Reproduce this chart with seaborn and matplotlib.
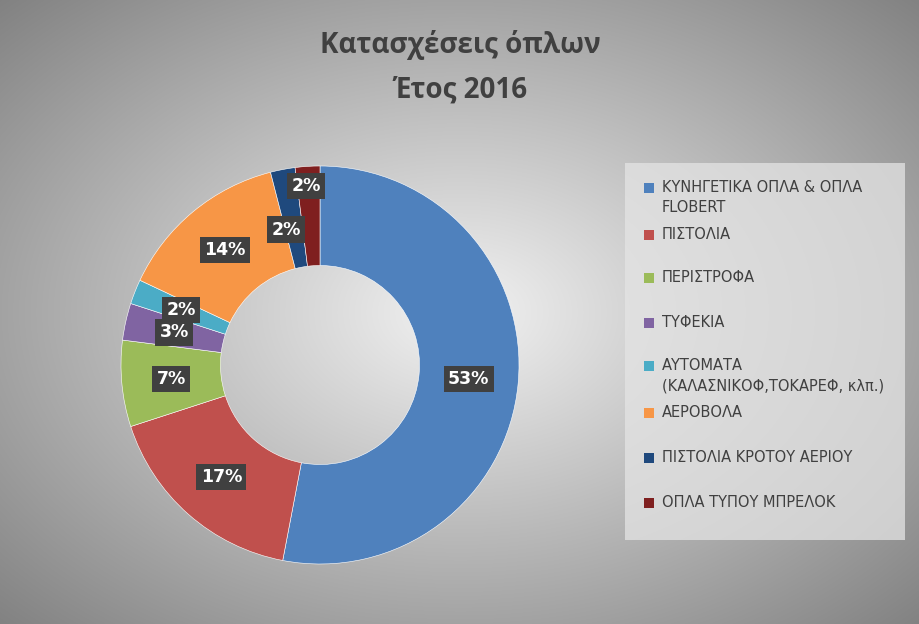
import numpy as np
import matplotlib
matplotlib.use("Agg")
import matplotlib.pyplot as plt
import seaborn as sns
from matplotlib.patches import Rectangle

categories = ["ΚΥΝΗΓΕΤΙΚΑ ΟΠΛΑ & ΟΠΛΑ\nFLOBERT", "ΠΙΣΤΟΛΙΑ", "ΠΕΡΙΣΤΡΟΦΑ", "ΤΥΦΕΚΙΑ",
              "ΑΥΤΟΜΑΤΑ\n(ΚΑΛΑΣΝΙΚΟΦ,ΤΟΚΑΡΕΦ, κλπ.)", "ΑΕΡΟΒΟΛΑ",
              "ΠΙΣΤΟΛΙΑ ΚΡΟΤΟΥ ΑΕΡΙΟΥ", "ΟΠΛΑ ΤΥΠΟΥ ΜΠΡΕΛΟΚ"]
values = [53, 17, 7, 3, 2, 14, 2, 2]
labels = ["53%", "17%", "7%", "3%", "2%", "14%", "2%", "2%"]
colors = ["#4f81bd", "#c0504d", "#9bbb59", "#8064a2", "#4bacc6", "#f79646", "#1f497d", "#7f1f1f"]

sns.set_theme(style="white", font="DejaVu Sans")
fig = plt.figure(figsize=(9.2, 6.24), dpi=100)

# radial gradient background
bg = fig.add_axes([0, 0, 1, 1])
yy, xx = np.mgrid[0:624, 0:920]
d = np.sqrt(((xx - 460) / 620) ** 2 + ((yy - 312) / 420) ** 2)
g = np.clip(0.95 - 0.42 * d, 0.5, 1)
bg.imshow(np.dstack([g, g, g]), aspect="auto", extent=[0, 920, 624, 0])
bg.set_xlim(0, 920); bg.set_ylim(624, 0); bg.axis("off")

ax = fig.add_axes([120 / 920, 59 / 624, 400 / 920, 400 / 624])
wedges, _ = ax.pie(values, colors=colors, startangle=90, counterclock=False,
                   radius=1, wedgeprops=dict(width=0.5, edgecolor="white", linewidth=0.4))
ax.set_xlim(-1.005, 1.005); ax.set_ylim(-1.005, 1.005)
ax.set_aspect("equal")
for i, w in enumerate(wedges):
    ang = np.deg2rad((w.theta1 + w.theta2) / 2)
    r = 0.75
    x, y = r * np.cos(ang), r * np.sin(ang)
    if i == 6:
        x, y = -0.17, 0.68
    if i == 7:
        x, y = -0.07, 0.9
    ax.text(x, y, labels[i], ha="center", va="center", color="white", fontsize=12.5,
            fontweight="bold", bbox=dict(boxstyle="square,pad=0.25", fc="#404040", ec="none"))

fig.text(460 / 920, 1 - 45 / 624, "Κατασχέσεις όπλων", ha="center", va="center",
         fontsize=20, fontweight="bold", color="#404040", family="Open Sans")
fig.text(460 / 920, 1 - 90 / 624, "Έτος 2016", ha="center", va="center",
         fontsize=20, fontweight="bold", color="#404040", family="Open Sans")

# legend
bg.add_patch(Rectangle((625, 163), 280, 377, fc="#e4e4e4", ec="none", alpha=0.75))
ys = [188, 235, 278, 323, 366, 413, 458, 503]
for c, lab, y in zip(colors, categories, ys):
    bg.add_patch(Rectangle((644, y - 5), 10, 10, fc=c, ec="none"))
    bg.text(662, y - 8, lab, ha="left", va="top", fontsize=10.5, color="#404040",
            linespacing=1.45)

fig.savefig("out.png", dpi=100)
